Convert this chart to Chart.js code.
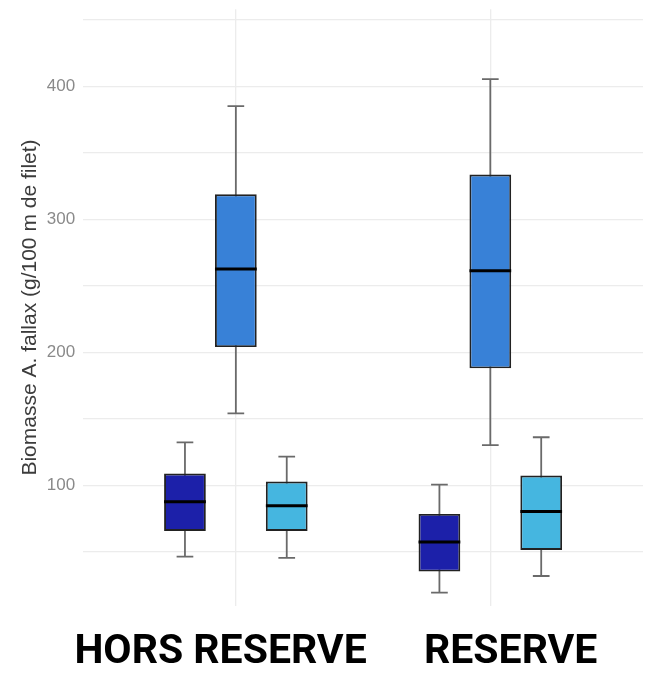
<!DOCTYPE html>
<html>
<head>
<meta charset="utf-8">
<script src="https://cdn.jsdelivr.net/npm/chart.js@4/dist/chart.umd.min.js"></script>
<style>
  html, body { margin: 0; padding: 0; background: #fff; }
  #wrap { width: 654px; height: 677px; }
</style>
</head>
<body>
<div id="wrap"><canvas id="boxChart" width="654" height="677"></canvas></div>
<script>
// Data - boxplots biomasse A. fallax
const categories = ['HORS RESERVE', 'RESERVE'];
const seriesNames = ['Groupe 1', 'Groupe 2', 'Groupe 3'];
const seriesColors = ['#1c20a9', '#3881d7', '#45b6e0'];

// one row per series, one value per category
const whiskerLow  = [[46.4, 19.4], [154.1, 130.3], [45.6, 31.9]];
const q1          = [[65.8, 35.2], [204.0, 188.0], [65.8, 51.5]];
const median      = [[87.8, 57.5], [262.6, 261.4], [84.8, 80.4]];
const q3          = [[108.9, 78.6], [318.8, 333.7], [102.9, 107.4]];
const whiskerHigh = [[132.4, 100.6], [385.1, 405.4], [121.7, 136.2]];

const yGridValues = [50, 100, 150, 200, 250, 300, 350, 400, 450];
const yLabelValues = [100, 200, 300, 400];

// labels in the original were pasted slightly off-centre
const labelPad = [['', '   '], ['    ', '']];

// Build floating bar datasets (box = q1..q3)
const datasets = seriesNames.map((name, s) => ({
    label: name,
    data: categories.map((c, i) => ({ x: i + 1, y: [q1[s][i], q3[s][i]] })),
    backgroundColor: seriesColors[s],
    borderColor: '#222',
    borderWidth: 1.9,
    borderSkipped: false,
    categoryPercentage: 0.6,
    barPercentage: 0.82
}));

// Whiskers + medians drawn with the chart scales
const boxExtras = {
    id: 'boxExtras',
    beforeDatasetsDraw(chart) {
        const { ctx, scales: { y } } = chart;
        ctx.save();
        ctx.strokeStyle = '#6a6a6a';
        ctx.lineWidth = 1.8;
        chart.data.datasets.forEach((ds, s) => {
            const meta = chart.getDatasetMeta(s);
            meta.data.forEach((bar, i) => {
                const cap = bar.width * 0.4;
                const yLow = y.getPixelForValue(whiskerLow[s][i]);
                const yHigh = y.getPixelForValue(whiskerHigh[s][i]);
                ctx.beginPath();
                ctx.moveTo(bar.x, yLow);
                ctx.lineTo(bar.x, yHigh);
                ctx.moveTo(bar.x - cap / 2, yLow);
                ctx.lineTo(bar.x + cap / 2, yLow);
                ctx.moveTo(bar.x - cap / 2, yHigh);
                ctx.lineTo(bar.x + cap / 2, yHigh);
                ctx.stroke();
            });
        });
        ctx.restore();
    },
    afterDatasetsDraw(chart) {
        const { ctx, scales: { y } } = chart;
        ctx.save();
        ctx.strokeStyle = '#000';
        ctx.lineWidth = 3;
        chart.data.datasets.forEach((ds, s) => {
            const meta = chart.getDatasetMeta(s);
            meta.data.forEach((bar, i) => {
                const ym = y.getPixelForValue(median[s][i]);
                ctx.beginPath();
                ctx.moveTo(bar.x - bar.width / 2, ym);
                ctx.lineTo(bar.x + bar.width / 2, ym);
                ctx.stroke();
            });
        });
        ctx.restore();
    }
};

const ctx = document.getElementById('boxChart').getContext('2d');
new Chart(ctx, {
    type: 'bar',
    data: { datasets: datasets },
    plugins: [boxExtras],
    options: {
        responsive: false,
        animation: false,
        layout: { padding: { left: 22, right: 11, top: 3, bottom: -22 } },
        plugins: {
            legend: { display: false },
            tooltip: { enabled: false }
        },
        scales: {
            x: {
                type: 'linear',
                min: 0.4,
                max: 2.6,
                offset: false,
                afterBuildTicks: function(scale) {
                    scale.ticks = categories.map((c, i) => ({ value: i + 1 }));
                },
                grid: { offset: false, color: '#ececec', lineWidth: 1.3, drawTicks: false },
                border: { display: false },
                ticks: {
                    autoSkip: false,
                    maxRotation: 0,
                    padding: 22,
                    color: '#000',
                    font: { family: "Roboto, 'Liberation Sans', sans-serif", size: 41, weight: 'bold' },
                    callback: function(value) {
                        const i = value - 1;
                        return labelPad[i][0] + categories[i] + labelPad[i][1];
                    }
                }
            },
            y: {
                min: 9.5,
                max: 458,
                afterBuildTicks: function(scale) {
                    scale.ticks = yGridValues.map(v => ({ value: v }));
                },
                grid: { color: '#ececec', lineWidth: 1.3, drawTicks: false },
                border: { display: false },
                ticks: {
                    padding: 8,
                    color: '#8a8a8a',
                    font: function(c) {
                        const shown = c.tick && yLabelValues.includes(c.tick.value);
                        return { family: "'Liberation Sans', Arial, sans-serif", size: shown ? 17 : 2 };
                    },
                    callback: function(value) {
                        return yLabelValues.includes(value) ? String(value) : '';
                    }
                },
                title: {
                    display: true,
                    text: 'Biomasse A. fallax (g/100 m de filet)',
                    color: '#3c3c3c',
                    padding: { top: 0, bottom: 0 },
                    font: { family: "'Liberation Sans', Arial, sans-serif", size: 21, lineHeight: 0.8 }
                }
            }
        }
    }
});
</script>
</body>
</html>
